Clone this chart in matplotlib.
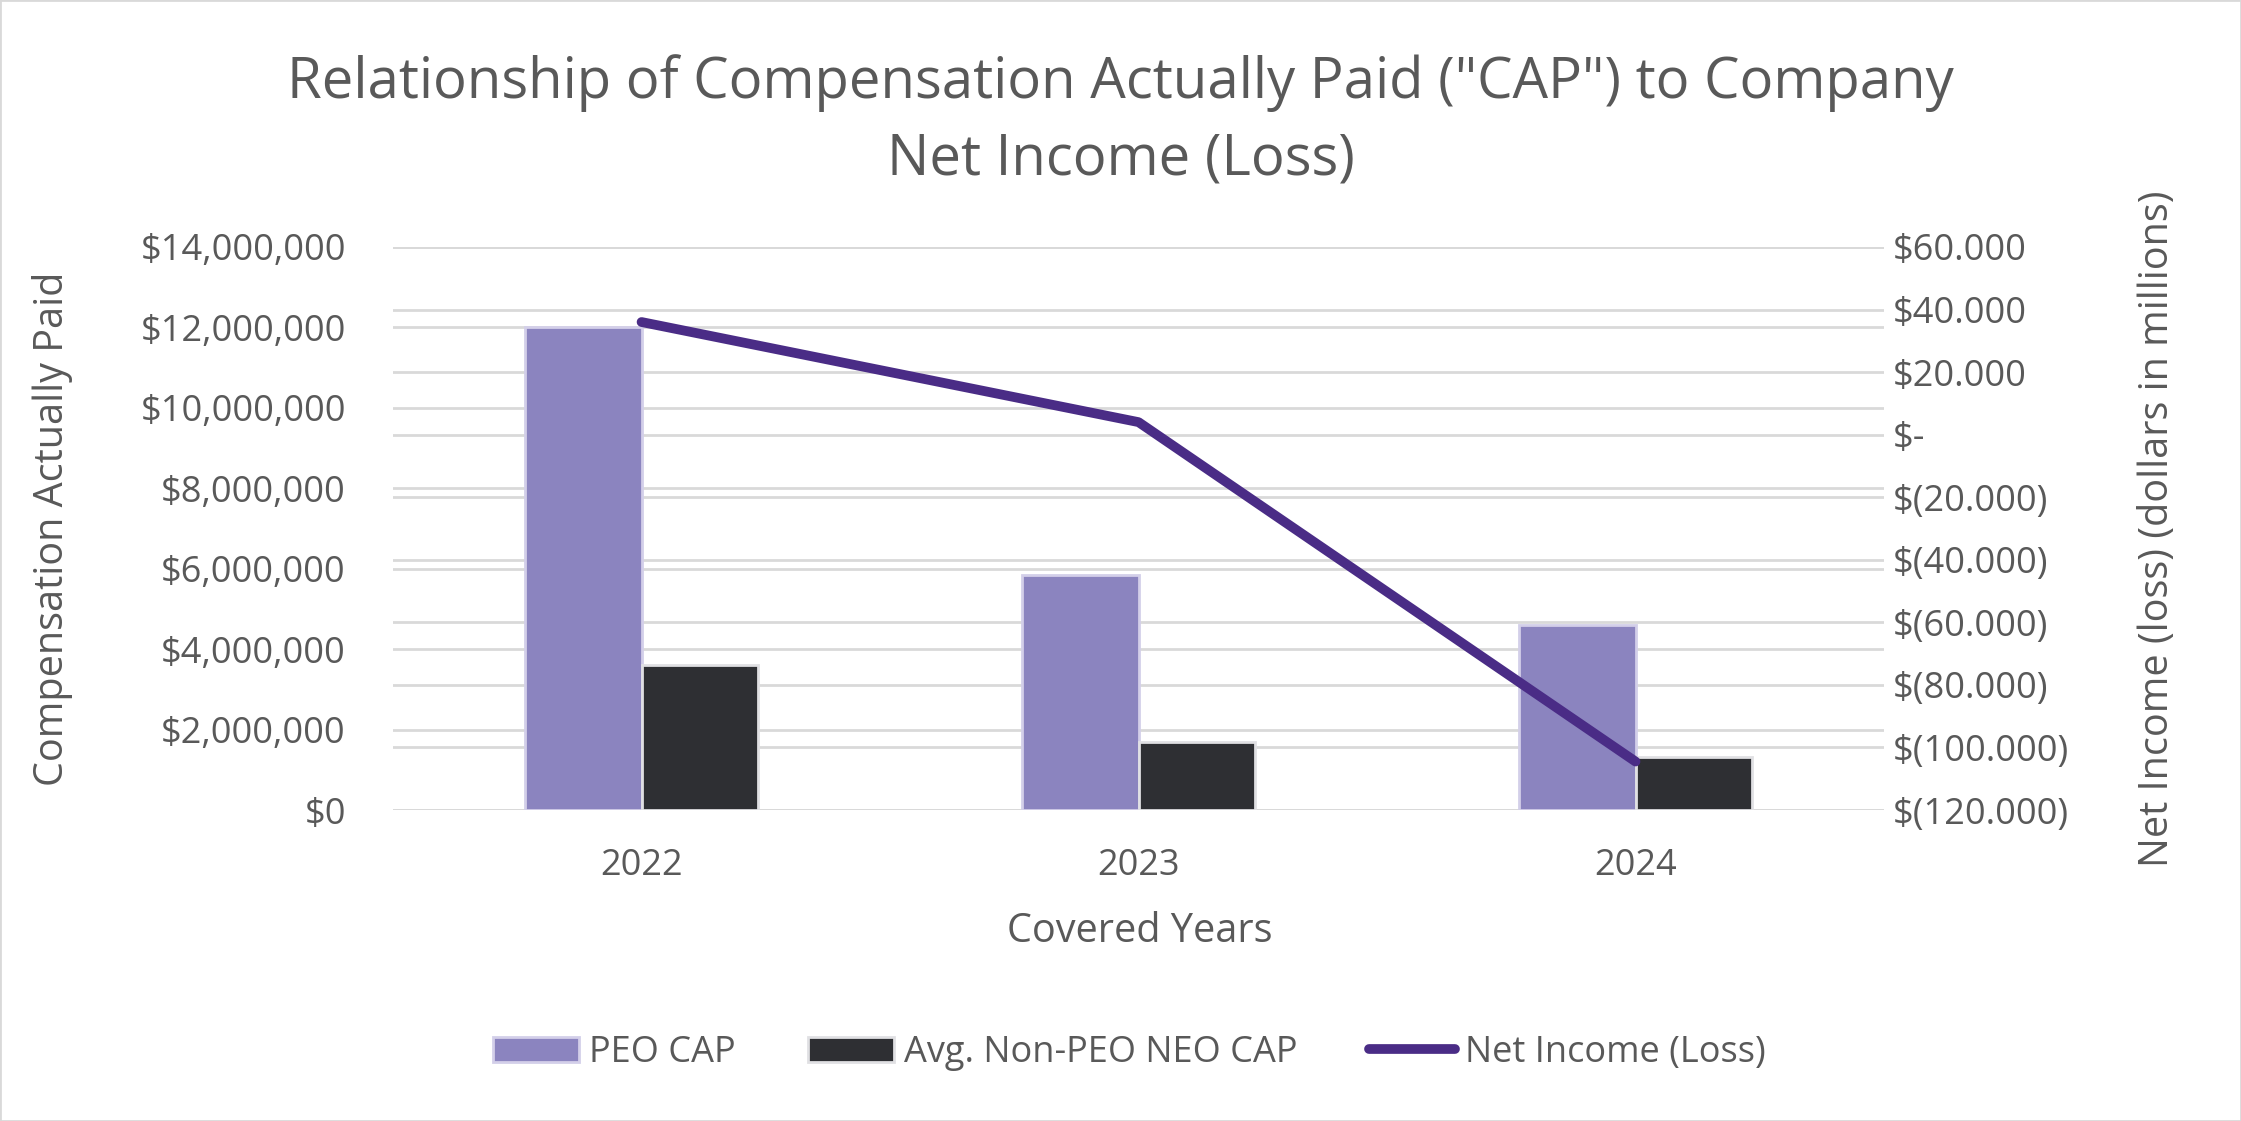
import matplotlib
matplotlib.use("Agg")
import matplotlib.pyplot as plt
from matplotlib.ticker import FuncFormatter, MultipleLocator
from matplotlib.patches import Rectangle
import numpy as np

years = ['2022', '2023', '2024']
peo_cap = [12_000_000, 5_850_000, 4_600_000]
non_peo_cap = [3_600_000, 1_700_000, 1_330_000]
net_income = [36.0, 4.0, -104.5]  # millions

plt.rcParams['font.family'] = ['Open Sans', 'DejaVu Sans']
grey = '#595959'

fig = plt.figure(figsize=(22.41, 11.21), dpi=100)
fig.patches.append(Rectangle((0, 0), 1, 1, transform=fig.transFigure, fill=False,
                             edgecolor='#d9d9d9', linewidth=2))

rect = [0.1754, 0.2774, 0.6653, 0.5023]
ax2 = fig.add_axes(rect)            # right axis + its gridlines (back)
ax = fig.add_axes(rect, sharex=ax2)  # bars + left axis
ax3 = fig.add_axes(rect, sharex=ax2, sharey=ax2)  # line on top
ax.patch.set_visible(False)
ax3.patch.set_visible(False)

x = np.arange(len(years))
w = 0.235
b1 = ax.bar(x - w / 2, peo_cap, w, color='#8b84bf', edgecolor='#d3cfe9', linewidth=2,
            label='PEO CAP', zorder=3)
b2 = ax.bar(x + w / 2, non_peo_cap, w, color='#2e2f33', edgecolor='#e0e0e3', linewidth=2,
            label='Avg. Non-PEO NEO CAP', zorder=3)
ln, = ax3.plot(x, net_income, color='#4a2c86', linewidth=7, solid_capstyle='round',
               label='Net Income (Loss)')

ax.set_xlim(-0.5, 2.5)
ax.set_ylim(0, 14_000_000)
ax.yaxis.set_major_locator(MultipleLocator(2_000_000))
ax.yaxis.set_major_formatter(FuncFormatter(lambda v, p: f"${v:,.0f}"))
ax2.set_ylim(-120, 60)
ax2.yaxis.set_major_locator(MultipleLocator(20))


def fmt_right(v, p):
    if abs(v) < 1e-9:
        return "$-"
    s = f"{abs(v):.3f}"
    return f"$({s})" if v < 0 else f"${s}"


ax2.yaxis.set_major_formatter(FuncFormatter(fmt_right))
ax2.yaxis.tick_right()

for a in (ax, ax2, ax3):
    for s in a.spines.values():
        s.set_visible(False)
ax.grid(axis='y', color='#d9d9d9', linewidth=2, zorder=0)
ax2.grid(axis='y', color='#d9d9d9', linewidth=2, zorder=0)
ax.set_axisbelow(True)
ax3.axis('off')

ax.set_xticks(x)
ax.set_xticklabels(years)
ax.tick_params(axis='x', length=0, pad=27, labelsize=26, labelcolor=grey)
ax.tick_params(axis='y', length=0, pad=34, labelsize=26, labelcolor=grey)
ax2.tick_params(axis='y', length=0, pad=6, labelsize=26, labelcolor=grey)
ax2.tick_params(axis='x', length=0, labelbottom=False)

fig.text(0.5, 0.926, 'Relationship of Compensation Actually Paid ("CAP") to Company',
         ha='center', va='center', fontsize=40.5, color=grey)
fig.text(0.5, 0.857, 'Net Income (Loss)', ha='center', va='center', fontsize=40.5, color=grey)
fig.text(0.0235, 0.5285, 'Compensation Actually Paid', rotation=90, ha='center', va='center',
         fontsize=28.5, color=grey)
fig.text(0.963, 0.5285, 'Net Income (loss) (dollars in millions)', rotation=90, ha='center',
         va='center', fontsize=28.5, color=grey)
fig.text(0.5085, 0.1686, 'Covered Years', ha='center', va='center', fontsize=28.5, color=grey)

leg = fig.legend([b1, b2, ln], ['PEO CAP', 'Avg. Non-PEO NEO CAP', 'Net Income (Loss)'],
                 loc='center', bbox_to_anchor=(0.504, 0.0607), ncol=3, frameon=False,
                 fontsize=26, handlelength=2.38, handleheight=0.7, handletextpad=0.28,
                 columnspacing=2.0, labelcolor=grey)

fig.savefig('out.png', dpi=100)
